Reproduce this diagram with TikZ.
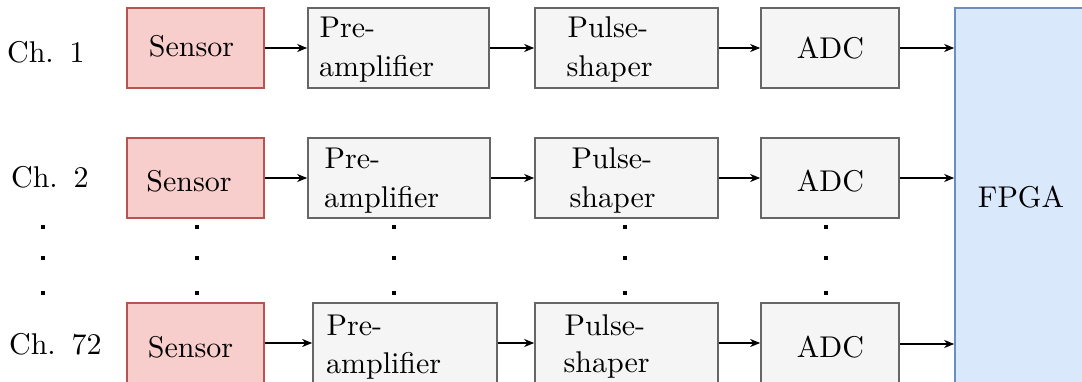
\documentclass[tikz,border=0pt]{standalone}
\usetikzlibrary{arrows.meta}
\definecolor{sensfill}{HTML}{F8CECC}
\definecolor{sensdraw}{HTML}{B85450}
\definecolor{greyfill}{HTML}{F5F5F5}
\definecolor{greydraw}{HTML}{666666}
\definecolor{fpgafill}{HTML}{DAE8FC}
\definecolor{fpgadraw}{HTML}{6C8EBF}
\tikzset{
  box/.style={rectangle, line width=1.6pt, inner sep=0pt, minimum height=80pt},
  sensbox/.style={box, fill=sensfill, draw=sensdraw, minimum width=137pt},
  greybox/.style={box, fill=greyfill, draw=greydraw},
  fpgabox/.style={rectangle, line width=1.6pt, inner sep=0pt, fill=fpgafill, draw=fpgadraw},
  txt/.style={inner sep=0pt, font=\fontsize{10}{13}\selectfont, scale=3},
  arr/.style={-{Stealth[length=10pt,width=8pt,inset=3pt]}, line width=1.2pt},
  dotsq/.style={fill=black, inner sep=0pt, minimum size=4pt, rectangle}
}
\begin{document}
\begin{tikzpicture}[x=1pt,y=-1pt]
\useasboundingbox (0,0) rectangle (1082,382);
% FPGA
\node[fpgabox, minimum width=140pt, minimum height=384pt] (f) at (1025,200) {};
\node[txt, anchor=base] (ft) at (1021,208) {FPGA};
% Row 1
\node[txt, anchor=base west] (c1) at (6.5,63) {Ch.\hspace{5.3pt}1};
\node[sensbox] (s1) at (195.5,48) {};
\node[txt, anchor=base] (s1t) at (191.5,57) {Sensor};
\node[greybox, minimum width=181pt] (p1) at (398.5,48) {};
\node[txt, anchor=base west] (p1a) at (319,38) {Pre-};
\node[txt, anchor=base west] (p1b) at (318.5,77) {amplifier};
\node[greybox, minimum width=183pt] (u1) at (626.5,48) {};
\node[txt, anchor=base west] (u1a) at (567,38) {Pulse-};
\node[txt, anchor=base west] (u1b) at (566,77) {shaper};
\node[greybox, minimum width=138pt] (a1) at (830,48) {};
\node[txt, anchor=base] (a1t) at (830.5,59) {ADC};
% Row 2
\node[txt, anchor=base west] (c2) at (10.5,188) {Ch.\hspace{5.3pt}2};
\node[sensbox] (s2) at (195.5,178) {};
\node[txt, anchor=base] (s2t) at (189,192) {Sensor};
\node[greybox, minimum width=182pt] (p2) at (399,178) {};
\node[txt, anchor=base west] (p2a) at (324,169) {Pre-};
\node[txt, anchor=base west] (p2b) at (323.5,208) {amplifier};
\node[greybox, minimum width=183pt] (u2) at (626.5,178) {};
\node[txt, anchor=base west] (u2a) at (571,169) {Pulse-};
\node[txt, anchor=base west] (u2b) at (569,208) {shaper};
\node[greybox, minimum width=138pt] (a2) at (830,178) {};
\node[txt, anchor=base] (a2t) at (830.5,192) {ADC};
% Row 3
\node[txt, anchor=base west] (c3) at (8.5,354) {Ch.\hspace{5.3pt}72};
\node[sensbox] (s3) at (195.5,343) {};
\node[txt, anchor=base] (s3t) at (190.5,357) {Sensor};
\node[greybox, minimum width=184pt] (p3) at (405,343) {};
\node[txt, anchor=base west] (p3a) at (326,335) {Pre-};
\node[txt, anchor=base west] (p3b) at (325.5,373) {amplifier};
\node[greybox, minimum width=183pt] (u3) at (626.5,343) {};
\node[txt, anchor=base west] (u3a) at (564,335) {Pulse-};
\node[txt, anchor=base west] (u3b) at (563,372) {shaper};
\node[greybox, minimum width=138pt] (a3) at (830,343) {};
\node[txt, anchor=base] (a3t) at (830.5,357) {ADC};
% Arrows
\foreach \r in {1,2,3}{
  \draw[arr] (s\r.east) -- (p\r.west);
  \draw[arr] (p\r.east) -- (u\r.west);
  \draw[arr] (u\r.east) -- (a\r.west);
}
\draw[arr] (a1.east) -- (a1.east -| f.west);
\draw[arr] (a2.east) -- (a2.east -| f.west);
\draw[arr] ([yshift=-1pt]a3.east) -- ([yshift=-1pt]a3.east -| f.west);
% Dots
\foreach \x/\n in {43/c,197/s,394/p,625/u,826/a}{
  \node[dotsq] (\n d1) at (\x,227) {};
  \node[dotsq] (\n d2) at (\x,258) {};
  \node[dotsq] (\n d3) at (\x,293) {};
}
\end{tikzpicture}
\end{document}
